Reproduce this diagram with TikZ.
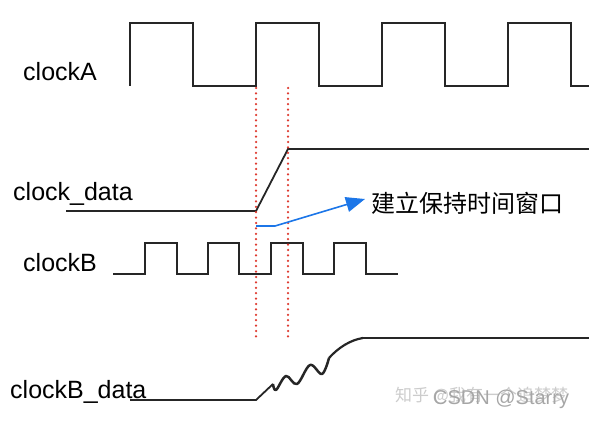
\documentclass[tikz,border=0pt]{standalone}
\usepackage{fontspec}
\setmainfont{Liberation Sans}
\newfontfamily\cjk{Noto Sans CJK SC}
\usetikzlibrary{arrows.meta}

\definecolor{winblue}{RGB}{28,118,232}
\definecolor{dotred}{RGB}{222,58,48}

\tikzset{
  wave/.style={line width=1.8pt, black!85},
  sig/.style={font=\fontsize{25}{25}\selectfont, anchor=base west, inner sep=0pt},
  mark wm/.style={gray!40, inner sep=0pt}
}

\begin{document}
\begin{tikzpicture}[x=1pt, y=-1pt]
      \useasboundingbox (0, 0) rectangle (589, 422);

      \node[sig] (lblA) at (23, 80.5) {clockA};
      \node[sig] (lblD) at (13, 201) {clock\_data};
      \node[sig] (lblB) at (23, 271) {clockB};
      \node[sig] (lblBD) at (10, 398) {clockB\_data};

      \draw[wave] (130, 86) -- (130, 23) -- (193, 23) -- (193, 86) -- (256, 86) -- (256, 23)
        -- (319, 23) -- (319, 86) -- (382, 86) -- (382, 23) -- (445, 23) -- (445, 86)
        -- (508, 86) -- (508, 23) -- (571, 23) -- (571, 86) -- (589, 86);

      \draw[wave] (66, 211) -- (256, 211) -- (288, 149) -- (589, 149);

      \draw[wave] (113, 274) -- (145, 274) -- (145, 243) -- (177, 243) -- (177, 274)
        -- (208, 274) -- (208, 243) -- (239, 243) -- (239, 274) -- (271, 274) -- (271, 243)
        -- (303, 243) -- (303, 274) -- (334, 274) -- (334, 243) -- (366, 243) -- (366, 274)
        -- (398, 274);

      \draw[wave] (130, 400) -- (256, 400) -- (273, 384);
      \draw[wave, line width=2.5pt, line join=round] plot[smooth, tension=0.6] coordinates
        {(273, 384) (276, 390) (286, 376) (297, 384) (310, 365) (322, 374) (329, 358)};
      \draw[wave, line width=2.2pt] (329, 358) .. controls (338, 348) and (350, 340) .. (363, 338);
      \draw[wave] (363, 338) -- (589, 338);

      \foreach \y in {88, 93.4, ..., 340} {
        \fill[dotred] (256, \y) circle (1.25);
        \fill[dotred] (288, \y) circle (1.25);
      }

      \node (win) at (371, 203.5) [anchor=west, inner sep=0pt, font=\cjk\fontsize{24}{24}\selectfont] {建立保持时间窗口};
      \coordinate (hs) at (256, 226);
      \coordinate (bend) at (275, 226);
      \coordinate (tip) at (365, 199);
      \draw[winblue, line width=1.6pt, -{Triangle[length=19pt, width=15pt]}] (hs) -- (bend) -- (tip);

      \node[mark wm, anchor=west, font=\cjk\fontsize{17}{17}\selectfont] (zh) at (395, 396) {知乎 @我有一个追梦梦};
      \node[mark wm, anchor=west, gray!70, font=\fontsize{20}{20}\selectfont] (csdn) at (433, 399) {CSDN @Starry};
\end{tikzpicture}
\end{document}
